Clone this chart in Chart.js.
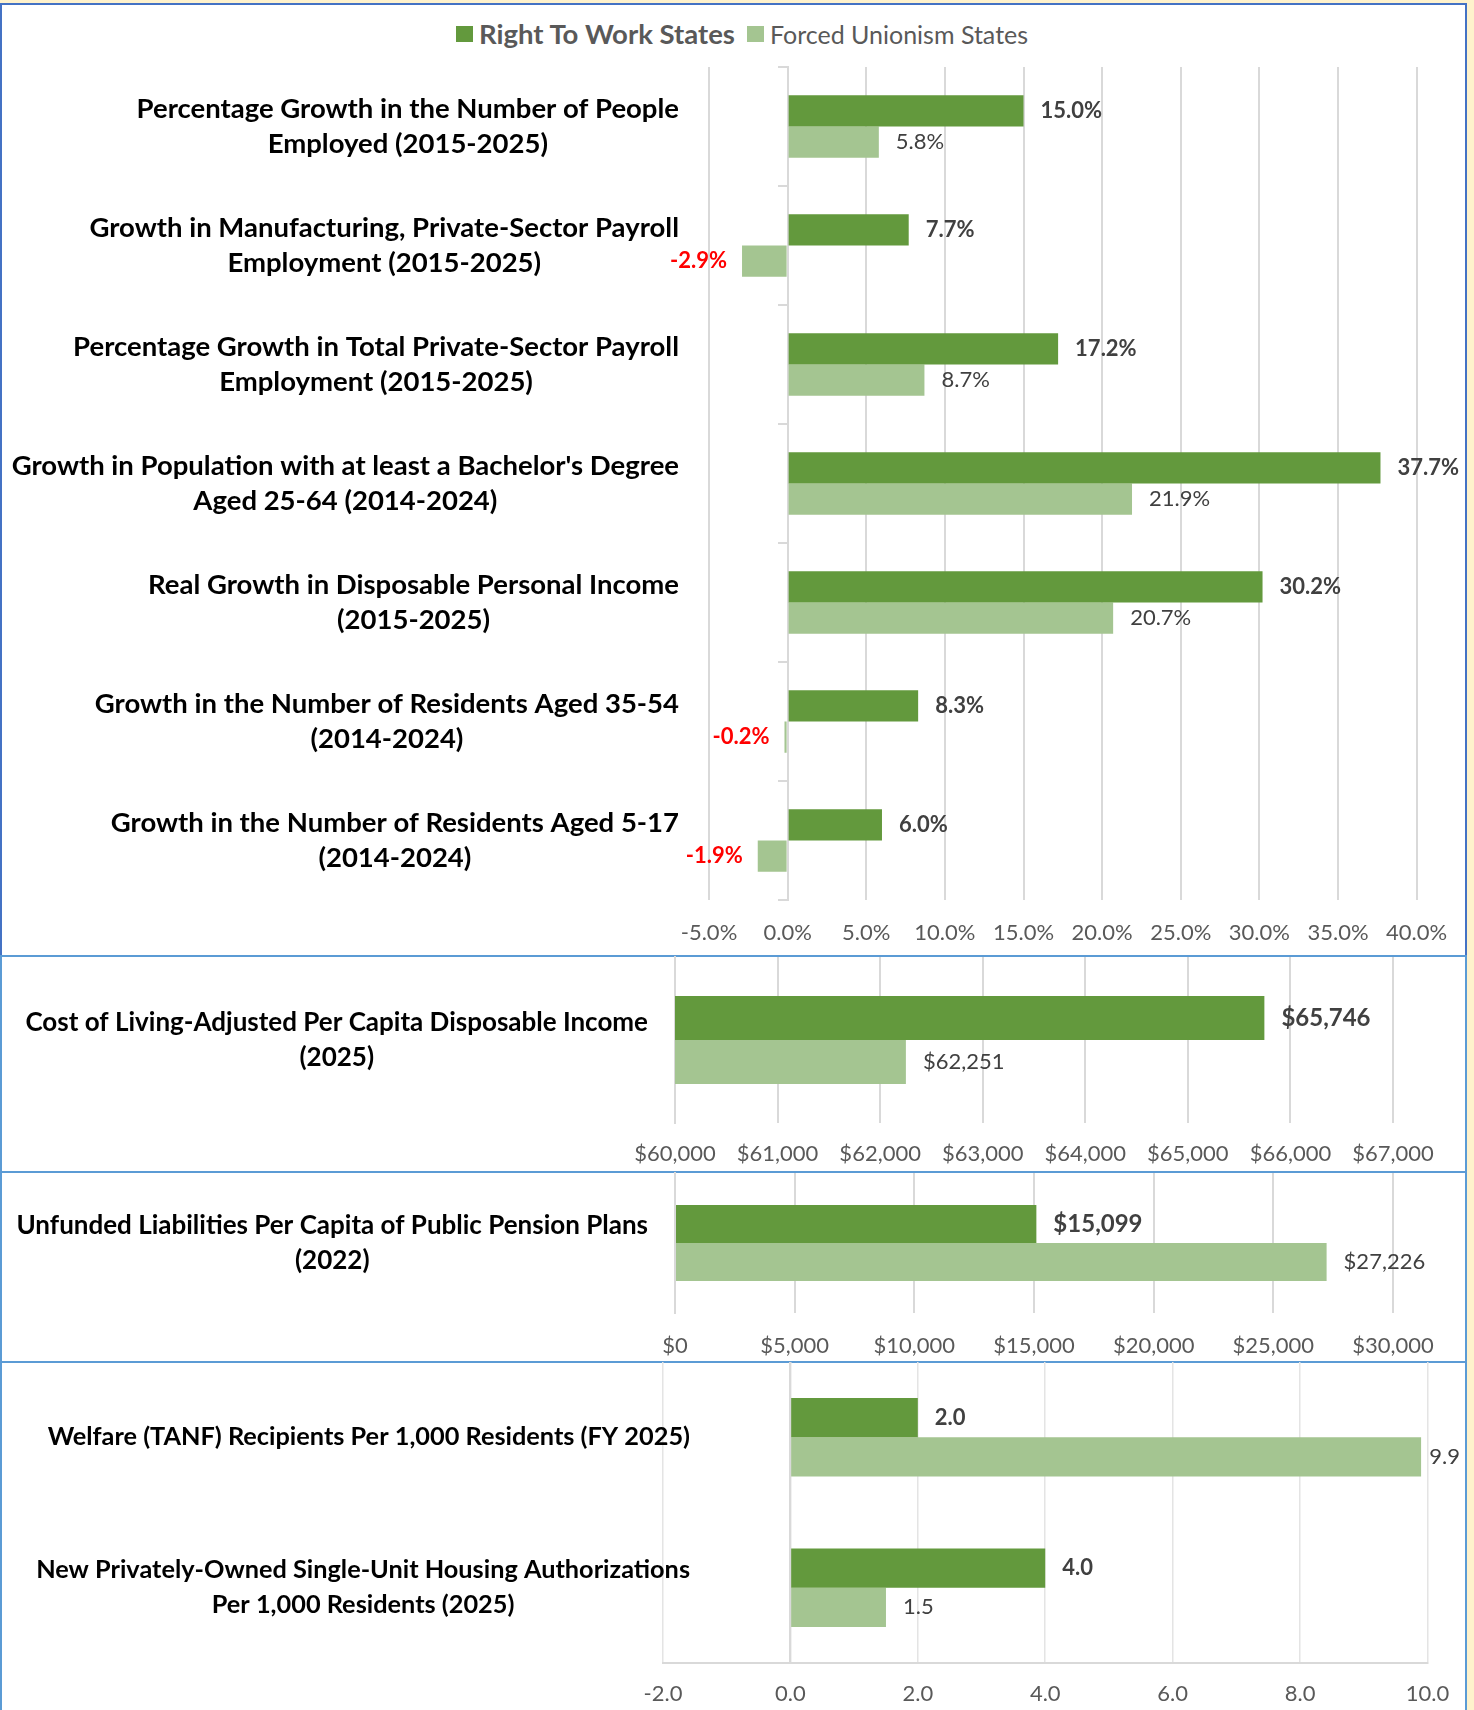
<!DOCTYPE html>
<html>
<head>
<meta charset="utf-8">
<script src="https://cdn.jsdelivr.net/npm/chart.js@4.4.1/dist/chart.umd.min.js"></script>
<style>
  html, body { margin:0; padding:0; background:#FFF2CC; width:1474px; height:1710px; overflow:hidden; }
  .panel { position:absolute; left:0; width:1467px; background:#fff; box-sizing:border-box; border-style:solid; border-width:2px 2px 0 2px; }
  canvas { position:absolute; left:0; }
  #legend { position:absolute; top:17px; left:456px; display:flex; align-items:center; font-family:Lato, sans-serif; color:#595959; white-space:nowrap; }
  #legend .box { width:17px; height:16px; display:inline-block; margin-right:6px; }
  #legend .item { display:flex; align-items:center; margin-right:12px; }
  #legend b { font-size:27.5px; }
  #legend .n { font-size:25px; }
</style>
</head>
<body>
<div class="panel" style="top:3px;height:953px;border-color:#4472C4;"></div>
<div class="panel" style="top:955px;height:217px;border-color:#5B9BD5;"></div>
<div class="panel" style="top:1171px;height:191px;border-color:#5B9BD5;"></div>
<div class="panel" style="top:1361px;height:349px;border-color:#5B9BD5;"></div>

<div id="legend">
  <span class="item"><span class="box" style="background:#63993D"></span><b>Right To Work States</b></span>
  <span class="item"><span class="box" style="background:#A4C591"></span><span class="n">Forced Unionism States</span></span>
</div>

<canvas id="c1" width="1467" height="956" style="top:0px"></canvas>
<canvas id="c2" width="1467" height="216" style="top:956px"></canvas>
<canvas id="c3" width="1467" height="190" style="top:1172px"></canvas>
<canvas id="c4" width="1467" height="348" style="top:1362px"></canvas>

<script>
// ---------- DATA ----------
const seriesNames = ["Right To Work States", "Forced Unionism States"];

const p1Categories = [
  ["Percentage Growth in the Number of People", "Employed (2015-2025)"],
  ["Growth in Manufacturing, Private-Sector Payroll", "Employment (2015-2025)"],
  ["Percentage Growth in Total Private-Sector Payroll", "Employment (2015-2025)"],
  ["Growth in Population with at least a Bachelor's Degree", "Aged 25-64 (2014-2024)"],
  ["Real Growth in Disposable Personal Income", "(2015-2025)"],
  ["Growth in the Number of Residents Aged 35-54", "(2014-2024)"],
  ["Growth in the Number of Residents Aged 5-17", "(2014-2024)"]
];
const p1RightToWork = [15.0, 7.7, 17.2, 37.7, 30.2, 8.3, 6.0];
const p1Forced      = [5.8, -2.9, 8.7, 21.9, 20.7, -0.2, -1.9];
const p1Ticks       = [-5, 0, 5, 10, 15, 20, 25, 30, 35, 40];

const p2Categories  = [["Cost of Living-Adjusted Per Capita Disposable Income", "(2025)"]];
const p2RightToWork = [65746];
const p2Forced      = [62251];
const p2Ticks       = [60000, 61000, 62000, 63000, 64000, 65000, 66000, 67000];

const p3Categories  = [["Unfunded Liabilities Per Capita of Public Pension Plans", "(2022)"]];
const p3RightToWork = [15099];
const p3Forced      = [27226];
const p3Ticks       = [0, 5000, 10000, 15000, 20000, 25000, 30000];

const p4Categories  = [
  ["Welfare (TANF) Recipients Per 1,000 Residents (FY 2025)"],
  ["New Privately-Owned Single-Unit Housing Authorizations", "Per 1,000 Residents (2025)"]
];
const p4RightToWork = [2.0, 4.0];
const p4Forced      = [9.9, 1.5];
const p4Ticks       = [-2, 0, 2, 4, 6, 8, 10];

// ---------- STYLE ----------
const FONT = "Lato";
const DARK = "#63993D", LIGHT = "#A4C591";
const GRID = "#d9d9d9";

const pct = v => v.toFixed(1) + "%";
const dollars = v => "$" + Math.round(v).toLocaleString("en-US");
const one = v => v.toFixed(1);

const categoryLabelPlugin = {
  id: "catLabels",
  afterDraw(chart, args, o) {
    const ctx = chart.ctx, y = chart.scales.y;
    ctx.save();
    ctx.font = "bold " + o.size + "px " + FONT;
    ctx.fillStyle = "#000";
    ctx.textAlign = "center";
    ctx.textBaseline = "middle";
    chart.data.labels.forEach((lines, i) => {
      const cy = y.getPixelForValue(i);
      const maxW = Math.max(...lines.map(l => ctx.measureText(l).width));
      const cx = o.right - maxW / 2;
      lines.forEach((l, k) => ctx.fillText(l, cx, cy + (k - (lines.length - 1) / 2) * o.lineHeight));
    });
    ctx.restore();
  }
};

const valueLabelPlugin = {
  id: "valLabels",
  afterDatasetsDraw(chart, args, o) {
    const ctx = chart.ctx;
    ctx.save();
    ctx.textBaseline = "middle";
    chart.data.datasets.forEach((ds, di) => {
      const meta = chart.getDatasetMeta(di);
      meta.data.forEach((bar, i) => {
        const v = ds.data[i];
        const neg = v < 0;
        const bold = di === 0 || neg;
        const size = bold ? o.boldSize : o.size;
        ctx.font = (bold ? "bold " : "") + size + "px " + FONT;
        ctx.fillStyle = neg ? "#FF0000" : "#404040";
        const txt = o.fmt(v);
        if (neg) {
          ctx.textAlign = "right";
          ctx.fillText(txt, bar.x - o.negGap, bar.y);
        } else {
          ctx.textAlign = "left";
          const w = ctx.measureText(txt).width;
          let x = bar.x + o.gap;
          if (x + w > o.maxX) x = o.maxX - w;
          ctx.fillText(txt, x, bar.y);
        }
      });
    });
    ctx.restore();
  }
};

function makeChart(id, p) {
  const tickSize = 22;
  return new Chart(document.getElementById(id), {
    type: "bar",
    data: {
      labels: p.categories,
      datasets: [
        { label: seriesNames[0], data: p.rtw, backgroundColor: DARK, borderWidth: 0 },
        { label: seriesNames[1], data: p.forced, backgroundColor: LIGHT, borderWidth: 0 }
      ]
    },
    options: {
      indexAxis: "y",
      responsive: false,
      animation: false,
      devicePixelRatio: 1,
      datasets: { bar: { categoryPercentage: p.catPct, barPercentage: 1 } },
      layout: { padding: p.padding },
      plugins: {
        legend: { display: false },
        tooltip: { enabled: false },
        catLabels: { size: p.labelSize, lineHeight: 35, right: p.labelRight },
        valLabels: { fmt: p.fmtVal, size: 22, boldSize: p.boldSize, gap: 17, negGap: 15, maxX: 1460 }
      },
      scales: {
        x: {
          type: "linear",
          min: p.ticks[0],
          max: p.ticks[p.ticks.length - 1],
          afterBuildTicks: s => { s.ticks = p.ticks.map(v => ({ value: v })); },
          afterFit: s => { s.height = p.axisH; },
          grid: { color: p.gridColor || GRID, lineWidth: p.gridWidth || 2, drawTicks: false },
          border: { display: !!p.xBorder, color: GRID, width: 2 },
          ticks: {
            callback: v => p.fmtTick(v),
            color: "#595959",
            font: { family: FONT, size: tickSize },
            padding: p.tickOffset - tickSize * 0.6,
            maxRotation: 0, autoSkip: false
          }
        },
        y: {
          type: "category",
          position: { x: p.axisAt },
          afterFit: s => { s.width = 0; },
          grid: { offset: true, drawOnChartArea: false, drawTicks: p.yTicks, tickLength: 9, color: GRID, lineWidth: 2 },
          border: { display: true, color: GRID, width: 2 },
          ticks: { display: false }
        }
      }
    },
    plugins: [categoryLabelPlugin, valueLabelPlugin]
  });
}

function build() {
  makeChart("c1", {
    categories: p1Categories, rtw: p1RightToWork, forced: p1Forced, ticks: p1Ticks,
    fmtTick: pct, fmtVal: pct, boldSize: 22, labelSize: 27.5,
    padding: { left: 709, right: 47, top: 67, bottom: 0 }, axisH: 56, tickOffset: 33,
    catPct: 0.525, labelRight: 679, axisAt: 0, yTicks: true
  });
  makeChart("c2", {
    categories: p2Categories, rtw: p2RightToWork, forced: p2Forced, ticks: p2Ticks,
    fmtTick: dollars, fmtVal: dollars, boldSize: 24, labelSize: 26,
    padding: { left: 675, right: 74, top: 1, bottom: 0 }, axisH: 49, tickOffset: 31,
    catPct: 0.53, labelRight: 648, axisAt: 60000, yTicks: false
  });
  makeChart("c3", {
    categories: p3Categories, rtw: p3RightToWork, forced: p3Forced, ticks: p3Ticks,
    fmtTick: dollars, fmtVal: dollars, boldSize: 24, labelSize: 26,
    padding: { left: 675, right: 74, top: 1, bottom: 0 }, axisH: 49, tickOffset: 33,
    catPct: 0.543, labelRight: 648, axisAt: 0, yTicks: false
  });
  makeChart("c4", {
    categories: p4Categories, rtw: p4RightToWork, forced: p4Forced, ticks: p4Ticks,
    fmtTick: one, fmtVal: one, boldSize: 22, labelSize: 25.3,
    padding: { left: 663, right: 38, top: 0, bottom: 0 }, axisH: 47, tickOffset: 31,
    catPct: 0.52, labelRight: 690, axisAt: 0, yTicks: false,
    gridColor: "#e4e4e4", gridWidth: 1.5, xBorder: true
  });
}

Promise.all([
  document.fonts.load("bold 26px Lato"),
  document.fonts.load("22px Lato")
]).then(build, build);
</script>
</body>
</html>
